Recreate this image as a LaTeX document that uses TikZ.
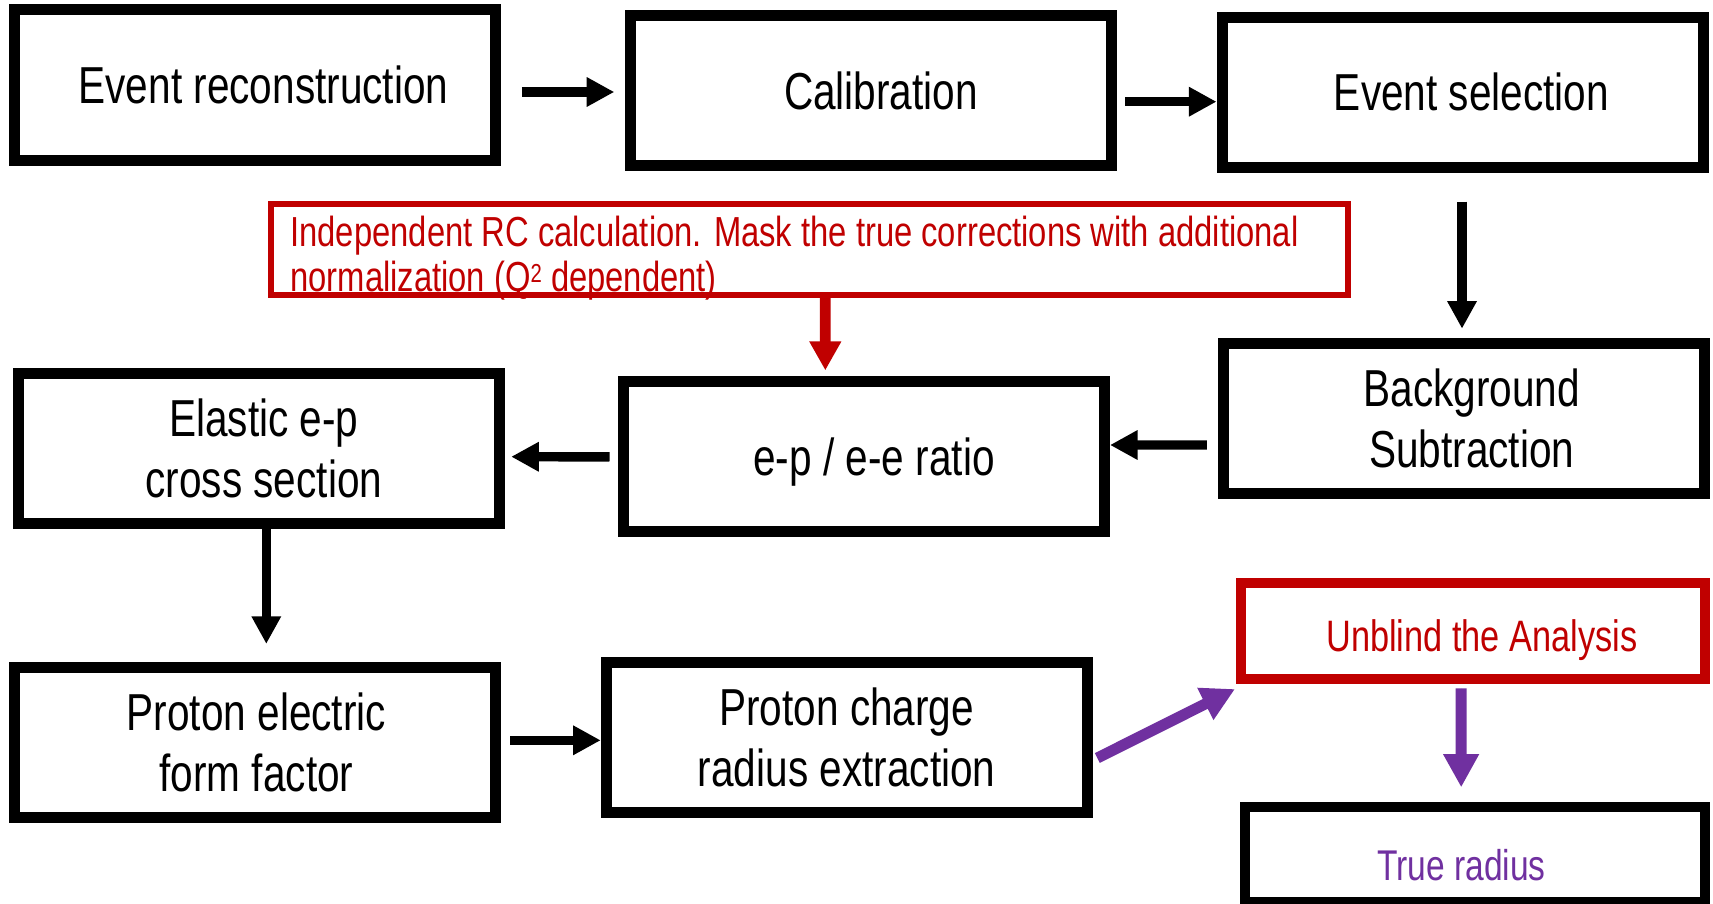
\documentclass[tikz,border=0pt]{standalone}
\usepackage{fontspec}
\setmainfont{Liberation Sans}[FakeStretch=0.78]
\usetikzlibrary{arrows.meta,calc}
\definecolor{myred}{HTML}{C00000}
\definecolor{mypurple}{HTML}{7030A0}
\newcommand{\padl}[1]{\hspace*{#1}}
\tikzset{
  stepbox/.style={draw=black, line width=5.5pt, minimum width=240.5pt, minimum height=75pt,
    inner sep=0pt, align=center, font=\fontsize{26pt}{30.5pt}\selectfont, text=black},
  redbox/.style={draw=myred, line width=5pt, inner sep=0pt, align=center,
    font=\fontsize{22pt}{22.5pt}\selectfont, text=myred},
  blackthinbox/.style={draw=black, line width=5pt, inner sep=0pt, align=center,
    font=\fontsize{21.5pt}{22.5pt}\selectfont, text=mypurple},
  notebox/.style={draw=myred, line width=2.85pt, inner sep=0pt},
  notetext/.style={inner sep=0pt, align=left, text=myred, font=\fontsize{21pt}{22.5pt}\selectfont},
  blkarrow/.style={draw=black, line width=4.7pt, -{Triangle[width=13.9pt,length=13.8pt]}},
  redarrow/.style={draw=myred, fill=myred, line width=5.35pt, -{Triangle[width=15pt,length=14.5pt]}},
  purparrow/.style={draw=mypurple, fill=mypurple, line width=5.5pt, -{Triangle[width=16.8pt,length=16.6pt]}}
}
\begin{document}
\begin{tikzpicture}[x=0.5pt, y=-0.5pt]
\useasboundingbox (0,0) rectangle (1713,904);
\fill[white] (0,0) rectangle (1713,904);

% row 1
\node[stepbox] (er)  at (254.5, 85)    {\padl{9pt}Event reconstruction};
\node[stepbox] (cal) at (871, 90.5)    {\padl{10pt}Calibration};
\node[stepbox] (es)  at (1462.5, 92.2) {\padl{9pt}Event selection};

% note box
\node[notebox, minimum width=538.65pt, minimum height=45.5pt] (rc) at (809.5, 249.35) {};
\node[notetext, anchor=north west] (rct) at ($(rc.north west)+(22,15)$)
  {Independent RC calculation. Mask the true corrections with additional\\normalization (Q\raisebox{4.5pt}{\fontsize{13pt}{13pt}\selectfont 2} dependent)};

% row 2
\node[stepbox] (bg)    at (1463.8, 418.2) {\padl{8pt}Background\\\padl{8pt}Subtraction};
\node[stepbox, text depth=0pt] (ratio) at (864, 456.9) {\padl{10pt}e-p / e-e ratio};
\node[stepbox] (ela)   at (258.9, 448)    {\padl{5pt}Elastic e-p\\\padl{5pt}cross section};

% row 3
\node[stepbox] (pe) at (254.5, 742.4) {\padl{2pt}Proton electric\\\padl{2pt}form factor};
\node[stepbox] (pc) at (846.7, 737.8) {Proton charge\\radius extraction};
\node[redbox, minimum width=231.8pt, minimum height=47.85pt, text height=20.5pt, text depth=0pt] (ub) at (1472.8, 631.2) {\padl{9pt}Unblind the Analysis};
\node[blackthinbox, minimum width=230pt, minimum height=47.65pt, text height=25.6pt, text depth=0pt] (tr) at (1475, 854.4) {True radius\padl{13.5pt}};

% connectors
\draw[blkarrow] ($(er.east)+(21.3,7)$) -- ($(cal.west)+(-10.7,1.5)$);
\draw[blkarrow] ($(cal.east)+(8,11.2)$) -- ($(es.west)+(0,9.5)$);
\draw[blkarrow] ($(es.south)+(-0.5,29)$) -- ($(bg.north)+(-1.8,-9)$);
\draw[blkarrow] ($(bg.west)+(-11,26.8)$) -- ($(ratio.east)+(0,-11.9)$);
\draw[blkarrow] ($(ratio.west)+(-8.5,0)$) -- ($(ela.east)+(6.3,8.7)$);
\draw[blkarrow] ($(ela.south)+(7.4,0.6)$) -- ($(pe.north)+(11.8,-18)$);
\draw[blkarrow] ($(pe.east)+(9.7,-2.1)$) -- ($(pc.west)+(0,2.5)$);
\draw[redarrow] ($(rc.south)+(15.8,-2.7)$) -- ($(ratio.north)+(-38.7,-6)$);
\draw[purparrow] ($(pc.east)+(4.6,20.2)$) -- ($(ub.south west)+(-1,5)$);
\draw[purparrow] ($(ub.south)+(-11.8,4.3)$) -- ($(tr.north)+(-13.8,-14.4)$);
\end{tikzpicture}
\end{document}
